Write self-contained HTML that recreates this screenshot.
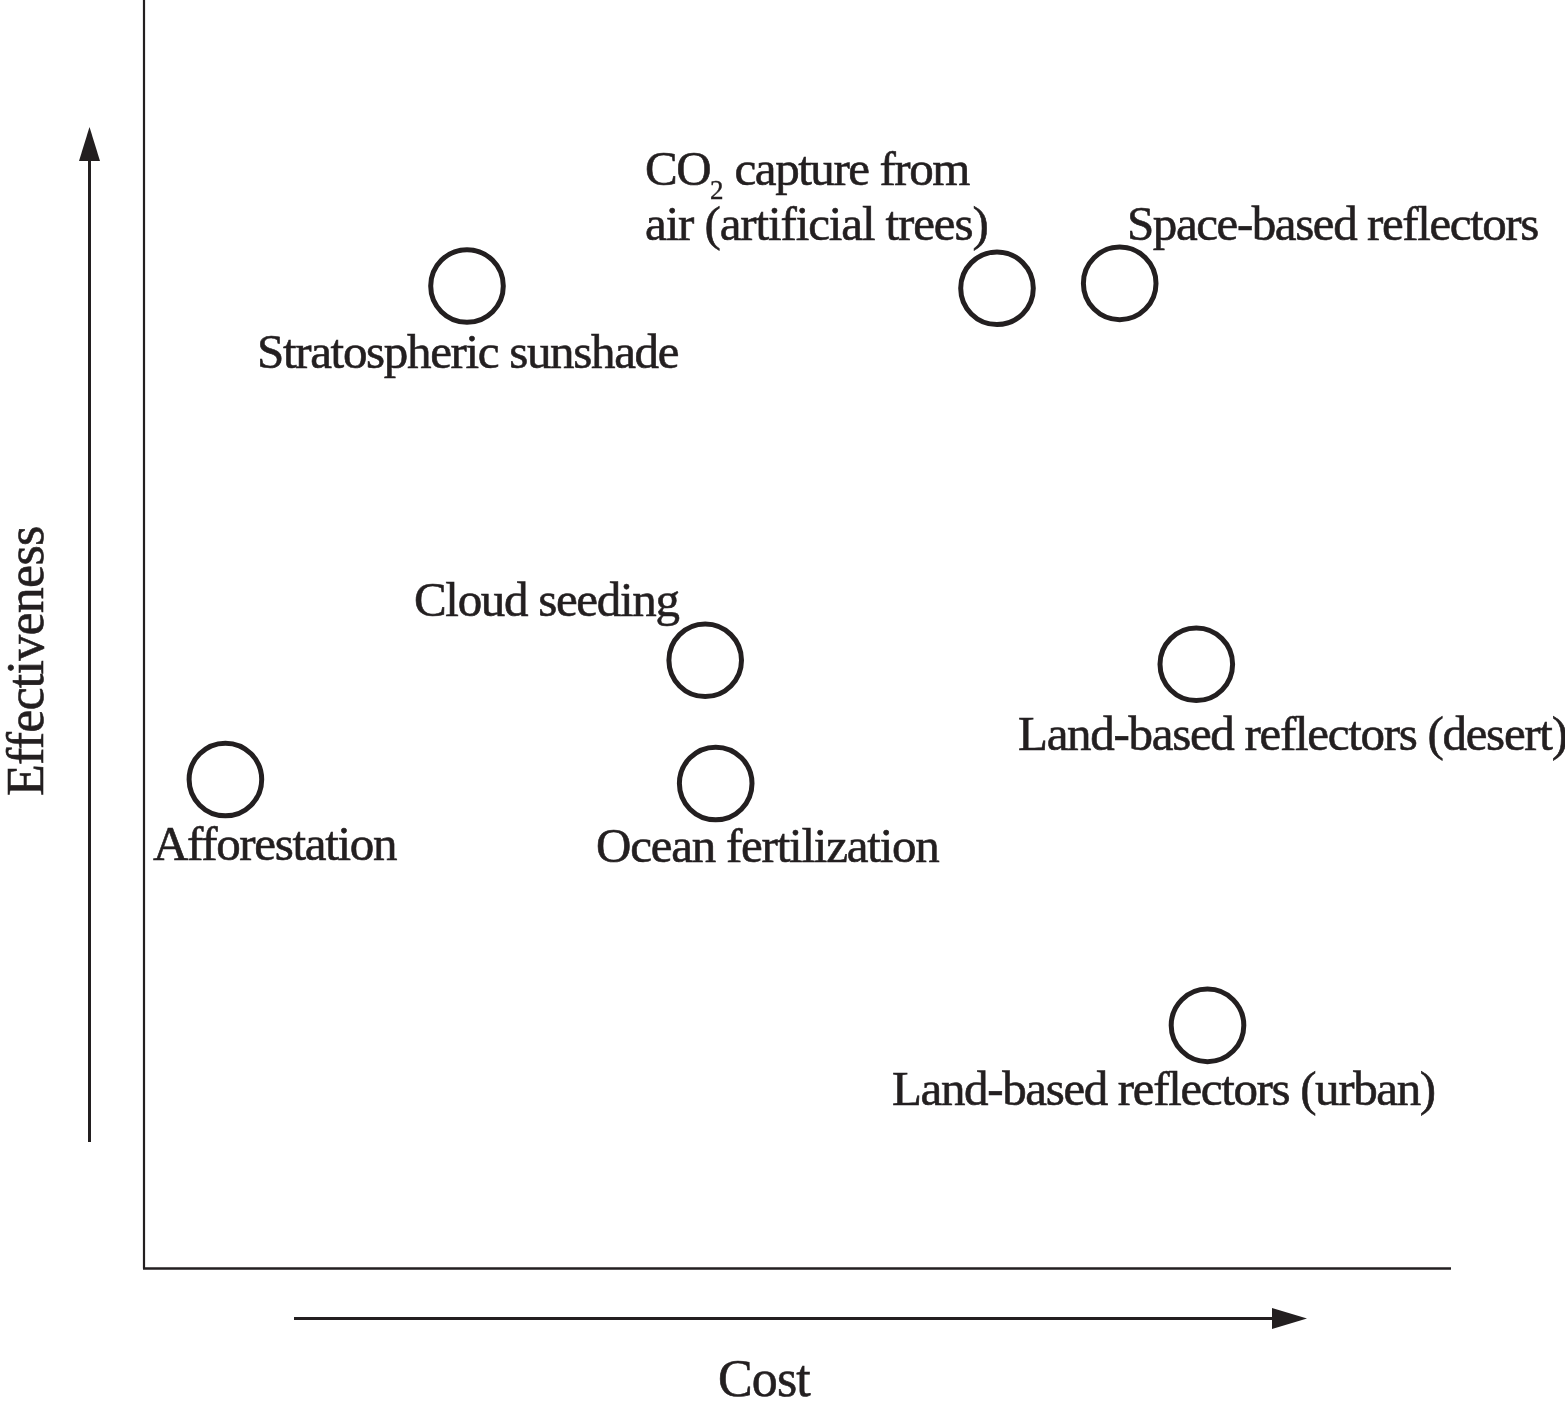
<!DOCTYPE html>
<html><head><meta charset="utf-8">
<style>
html,body{margin:0;padding:0;background:#fff;}
body{width:1565px;height:1412px;position:relative;overflow:hidden;}
svg{position:absolute;left:0;top:0;}
.t{position:absolute;font-family:"Liberation Serif",serif;font-size:49px;line-height:49px;color:#231f20;white-space:nowrap;letter-spacing:-0.9px;-webkit-text-stroke:0.6px #231f20;-webkit-font-smoothing:antialiased;}
.ax{font-size:52px;line-height:52px;}
</style></head><body>
<svg width="1565" height="1412" viewBox="0 0 1565 1412">
<g fill="none" stroke="#231f20">
<line x1="144" y1="0" x2="144" y2="1268.5" stroke-width="2.2"/>
<line x1="143" y1="1268.5" x2="1451" y2="1268.5" stroke-width="2.6"/>
<line x1="89.5" y1="158" x2="89.5" y2="1142" stroke-width="3"/>
<line x1="294" y1="1318.5" x2="1275" y2="1318.5" stroke-width="3"/>
<g stroke-width="5">
<circle cx="467" cy="286" r="36.3"/>
<circle cx="997" cy="288.3" r="36.3"/>
<circle cx="1119.7" cy="283.4" r="36.3"/>
<circle cx="705.2" cy="660.3" r="36.3"/>
<circle cx="715.7" cy="783.5" r="36.3"/>
<circle cx="1196.3" cy="664.3" r="36.3"/>
<circle cx="225.4" cy="779.5" r="36.3"/>
<circle cx="1207.5" cy="1025.4" r="36.3"/>
</g>
</g>
<g fill="#231f20">
<polygon points="89.5,127 100,161 79,161"/>
<polygon points="1307,1318.5 1272,1308 1272,1329"/>
</g>
</svg>
<div class="t" id="l1" style="letter-spacing:-1.33px;left:257px;top:327px">Stratospheric sunshade</div>
<div class="t" id="l2" style="letter-spacing:-1.44px;left:645px;top:144px">CO<span style="font-size:27px;vertical-align:-14px;line-height:0;letter-spacing:0;-webkit-text-stroke:0.4px #231f20;display:inline-block;will-change:transform">2</span> capture from</div>
<div class="t" id="l3" style="letter-spacing:-1.12px;left:645px;top:199px">air (artificial trees)</div>
<div class="t" id="l4" style="letter-spacing:-1.42px;left:1127px;top:199px">Space-based reflectors</div>
<div class="t" id="l5" style="letter-spacing:-1.30px;left:1018px;top:709px">Land-based reflectors (desert)</div>
<div class="t" id="l6" style="letter-spacing:-1.36px;left:892px;top:1064px">Land-based reflectors (urban)</div>
<div class="t" id="l7" style="letter-spacing:-1.32px;left:153px;top:819px">Afforestation</div>
<div class="t" id="l8" style="letter-spacing:-1.23px;left:596px;top:821px">Ocean fertilization</div>
<div class="t" id="l9" style="letter-spacing:-1.32px;left:414px;top:575px">Cloud seeding</div>
<div class="t ax" id="l10" style="letter-spacing:-0.9px;left:718px;top:1353px">Cost</div>
<div class="t ax" id="l11" style="letter-spacing:-0.75px;left:0px;top:0px;transform-origin:0 0;transform:translate(0px,796px) rotate(-90deg)">Effectiveness</div>
</body></html>
